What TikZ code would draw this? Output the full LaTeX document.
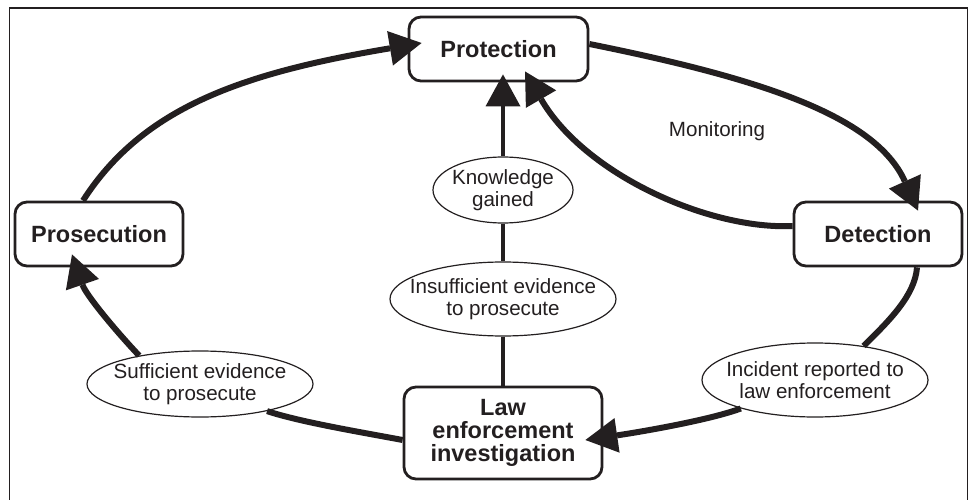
\documentclass[tikz,border=0pt]{standalone}
\usepackage{fontspec}
\setmainfont{Liberation Sans}
\usetikzlibrary{arrows.meta,shapes.geometric}
\definecolor{ink}{RGB}{35,31,32}
\begin{document}
\begin{tikzpicture}[x=1pt,y=-1pt,
  box/.style={draw=ink, line width=2.8pt, rounded corners=12pt, fill=white,
    font=\fontsize{23.5}{22.7}\selectfont\bfseries, align=center, inner sep=0pt, text=ink},
  oval/.style={ellipse, draw=ink, line width=1.2pt, fill=white, inner sep=0pt},
  ovaltext/.style={font=\fontsize{20.6}{21.7}\selectfont, align=center, text=ink, inner sep=0pt},
  flow/.style={draw=ink, line width=6pt},
  stem/.style={draw=ink, line width=4.6pt},
  tip/.style={-{Triangle[length=32pt,width=35pt,line width=0pt]}},
]
\useasboundingbox (0,0) rectangle (972,500);
\draw[ink, line width=1.6pt] (9.5,520) -- (9.5,8) -- (967.5,8) -- (967.5,520);

% nodes
\node[box, minimum width=179pt, minimum height=64pt] (protection) at (498.5,49) {Protection};
\node[box, minimum width=168pt, minimum height=64pt] (detection) at (878,234) {Detection};
\node[box, minimum width=168pt, minimum height=64pt] (prosecution) at (99,234) {Prosecution};
\node[box, minimum width=198pt, minimum height=92pt] (law) at (503,433) {Law\\enforcement\\investigation};
\node[oval, minimum width=140pt, minimum height=66pt,
  label={[ovaltext]center:{Knowledge\\gained}}] (knowledge) at (503,190) {};
\node[oval, minimum width=226pt, minimum height=74pt,
  label={[ovaltext]center:{Insufficient evidence\\to prosecute}}] (insufficient) at (503,299) {};
\node[oval, minimum width=226pt, minimum height=66pt,
  label={[ovaltext]center:{Sufficient evidence\\to prosecute}}] (sufficient) at (200,384) {};
\node[oval, minimum width=226pt, minimum height=74pt,
  label={[ovaltext]center:{Incident reported to\\law enforcement}}] (incident) at (815,380) {};
\node[text=ink, font=\fontsize{20.6}{22}\selectfont, inner sep=0pt] (monitoring) at (717,131) {Monitoring};

% connectors
\draw[flow, tip] ([xshift=-16pt]prosecution.north) .. controls (143,107) and (243,73) .. ([xshift=14pt,yshift=6pt]protection.west);
\draw[flow, tip] ([yshift=5pt]protection.east) .. controls (758,78) and (875,115) .. ([xshift=40pt,yshift=-10pt]detection.north);
\draw[flow, tip] ([yshift=8pt]detection.west) .. controls (710,230) and (585,175) .. ([xshift=26.5pt,yshift=11pt]protection.south);
\draw[stem, tip] (knowledge.north) -- ([yshift=8pt]knowledge.north |- protection.south);
\draw[stem] (knowledge) -- (insufficient);
\draw[stem] (insufficient) -- (law);
\draw[flow] ([xshift=39pt]detection.south) .. controls (915,295) and (890,320) .. (incident.35);
\draw[flow, tip] (incident.201) .. controls (710,420) and (640,432) .. ([xshift=-18pt,yshift=-7pt]law.east);
\draw[flow] ([yshift=-7pt]law.west) .. controls (360,432) and (300,422) .. (sufficient.-22);
\draw[flow, tip] (sufficient.155) .. controls (115,330) and (86,295) .. ([xshift=-27pt,yshift=13pt]prosecution.south);
\end{tikzpicture}
\end{document}
